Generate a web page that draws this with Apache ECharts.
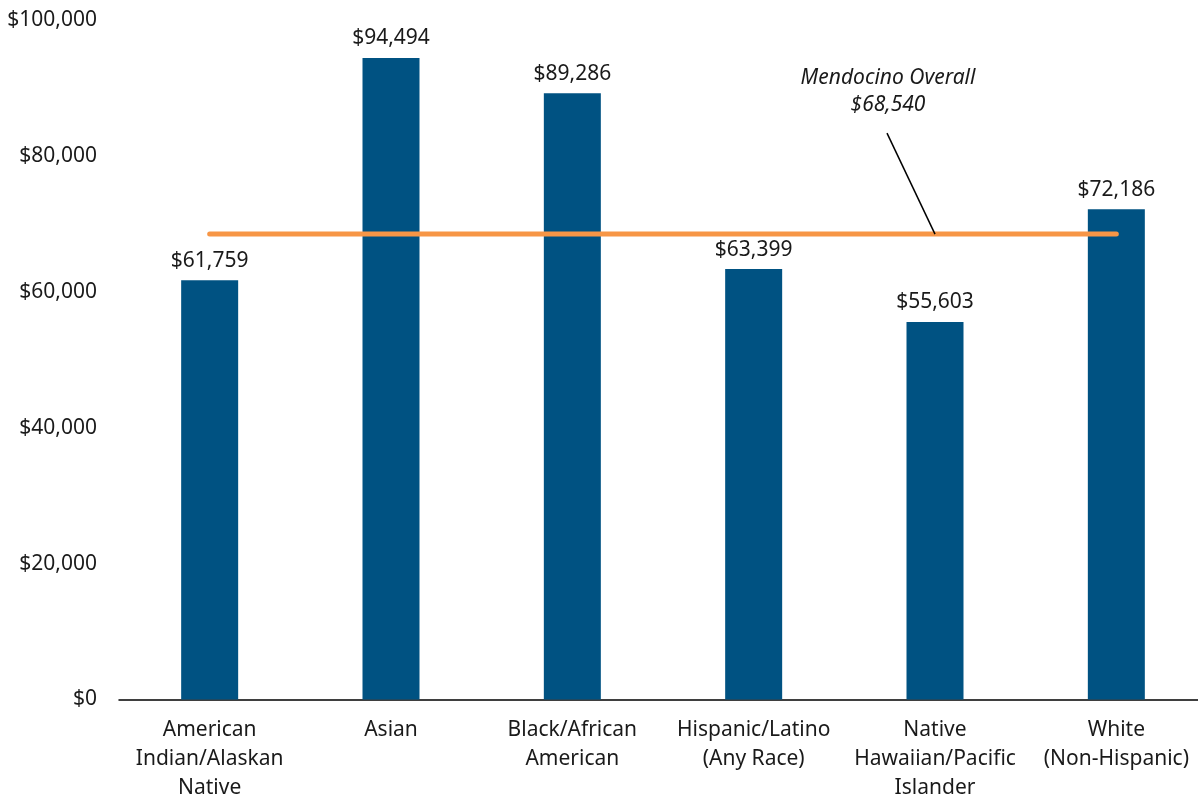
<!DOCTYPE html>
<html>
<head>
<meta charset="utf-8">
<script src="https://cdn.jsdelivr.net/npm/echarts@6/dist/echarts.min.js"></script>
<style>
html,body{margin:0;padding:0;background:#fff;}
#chart{width:1198px;height:800px;}
</style>
</head>
<body>
<div id="chart"></div>
<script>
const categories = ['American\nIndian/Alaskan\nNative', 'Asian', 'Black/African\nAmerican', 'Hispanic/Latino\n(Any Race)', 'Native\nHawaiian/Pacific\nIslander', 'White\n(Non-Hispanic)'];
const incomes = [61759, 94494, 89286, 63399, 55603, 72186];
const overallValue = 68540;
const overallLabel = ['Mendocino Overall', '$68,540'];
const yTicks = [0, 20000, 40000, 60000, 80000, 100000];

const FONT = '"Noto Sans", "Liberation Sans", sans-serif';
function money(v) {
  return '$' + String(Math.round(v)).replace(/\B(?=(\d{3})+(?!\d))/g, ',');
}

const chart = echarts.init(document.getElementById('chart'), null, {renderer: 'canvas'});
const option = {
  animation: false,
  backgroundColor: '#ffffff',
  grid: {left: 119, top: 20.5, right: -9, height: 679, containLabel: false, outerBoundsMode: 'none'},
  xAxis: {
    type: 'category',
    data: categories,
    axisLine: {show: true, lineStyle: {color: '#000000', width: 1.5}},
    axisTick: {show: false},
    axisLabel: {
      color: '#1a1a1a', fontFamily: FONT, fontSize: 21, lineHeight: 29,
      margin: 16, interval: 0, align: 'center'
    },
    splitLine: {show: false}
  },
  yAxis: {
    type: 'value',
    min: yTicks[0],
    max: yTicks[yTicks.length - 1],
    interval: yTicks[1] - yTicks[0],
    axisLine: {show: false},
    axisTick: {show: false},
    splitLine: {show: false},
    axisLabel: {
      color: '#1a1a1a', fontFamily: FONT, fontSize: 21, margin: 22,
      formatter: v => money(v)
    }
  },
  series: [
    {
      type: 'bar',
      data: incomes,
      barWidth: 57,
      itemStyle: {color: '#005282'},
      label: {
        show: true, position: 'top', distance: 9,
        color: '#1a1a1a', fontFamily: FONT, fontSize: 21,
        formatter: p => money(p.value)
      },
      z: 2
    },
    {
      type: 'line',
      data: categories.map(() => overallValue),
      symbol: 'none',
      lineStyle: {color: '#f79646', width: 5, cap: 'round'},
      z: 3,
      silent: true
    }
  ]
};
chart.setOption(option);

const anchor = chart.convertToPixel({seriesIndex: 1}, [4, overallValue]);
chart.setOption({
  graphic: [
    {
      type: 'line',
      shape: {x1: anchor[0] - 48, y1: anchor[1] - 101, x2: anchor[0], y2: anchor[1]},
      style: {stroke: '#000000', lineWidth: 1.5},
      z: 10
    },
    {
      type: 'text',
      x: anchor[0] - 47, y: anchor[1] - 156,
      style: {
        text: overallLabel[0], fill: '#1a1a1a', font: 'italic 21px ' + FONT,
        align: 'center', verticalAlign: 'middle'
      },
      z: 10
    },
    {
      type: 'text',
      x: anchor[0] - 47, y: anchor[1] - 129,
      style: {
        text: overallLabel[1], fill: '#1a1a1a', font: 'italic 21px ' + FONT,
        align: 'center', verticalAlign: 'middle'
      },
      z: 10
    }
  ]
});
</script>
</body>
</html>
